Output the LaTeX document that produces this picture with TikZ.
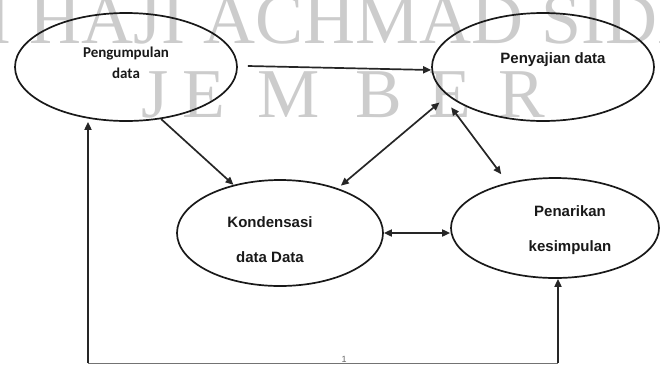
\documentclass[tikz,border=0pt]{standalone}
\usepackage{fontspec}
\setmainfont{Liberation Sans}
\newfontfamily\carl{Carlito}
\newfontfamily\wmfont{Liberation Serif}
\usetikzlibrary{shapes.geometric,arrows.meta}
\begin{document}
\begin{tikzpicture}[x=1pt,y=-1pt,
  proc/.style={draw=black!90, line width=1.7pt, ellipse, inner sep=0pt},
  lbl/.style={font=\bfseries\fontsize{15}{35}\selectfont, align=center, text=black!90, inner sep=0pt},
  arr/.style={line width=1.7pt, draw=black!85, -{Triangle[length=8pt,width=7pt]}},
  darr/.style={line width=1.7pt, draw=black!85, {Triangle[length=8pt,width=7pt]}-{Triangle[length=8pt,width=7pt]}},
  wm/.style={text=black!20, inner sep=0pt, anchor=base west},
  wmA/.style={wm, font=\wmfont\fontsize{72}{72}\selectfont},
  wmB/.style={wm, font=\wmfont\fontsize{70}{70}\selectfont}
]
\useasboundingbox (0,0) rectangle (660,365);
% watermark
\begin{scope}
\clip (0,0) rectangle (660,365);
\node[wmA] (wm1) at (-13,43) {I HAJI ACHMAD SIDD};
\end{scope}
\node[wmB] (wj) at (141,117) {J};
\node[wmB] (we1) at (182,117) {E};
\node[wmB] (wm) at (257,117) {M};
\node[wmB] (wb) at (355,117) {B};
\node[wmB] (we2) at (428,117) {E};
\node[wmB] (wr) at (498,117) {R};

% ellipses
\node[proc, minimum width=222pt, minimum height=108pt] (e1) at (126,67) {};
\node[proc, minimum width=222pt, minimum height=108pt] (e2) at (543,67) {};
\node[proc, minimum width=206pt, minimum height=106pt] (e3) at (280,233) {};
\node[proc, minimum width=208pt, minimum height=100pt] (e4) at (555,228) {};

% labels
\node[lbl, font=\carl\bfseries\fontsize{15}{21}\selectfont] (t1) at (126,62.5) {Pengumpulan\\data};
\node[lbl] (t2) at (553,60) {Penyajian data};
\node[lbl] (t3) at (270,240) {Kondensasi\\data Data};
\node[lbl] (t4) at (570,230.5) {Penarikan\\kesimpulan};

% connectors
\draw[arr] ([shift={(10,-1)}]e1.east) -- ([shift={(0,3)}]e2.west);
\draw[arr] (e1.-56) -- (e3.134);
\draw[darr] ([shift={(2,-3)}]e3.37) -- ([shift={(-12,4)}]e2.199);
\draw[darr] ([shift={(-9,3.5)}]e2.204) -- ([shift={(-8,-8)}]e4.135);
\draw[darr] (e3.east) -- (e3.east -| e4.west);

% feedback loop
\coordinate (fbL) at (88,363);
\coordinate (fbR) at (558,363);
\draw[line width=1pt, draw=black!55] (fbL) -- (fbR);
\draw[arr] (fbL) -- (fbL |- e1.south);
\draw[arr] (fbR) -- (fbR |- e4.south);
\node[text=black!60, font=\fontsize{9}{9}\selectfont, anchor=base, inner sep=0pt] (one) at (344,362) {1};
\end{tikzpicture}
\end{document}
